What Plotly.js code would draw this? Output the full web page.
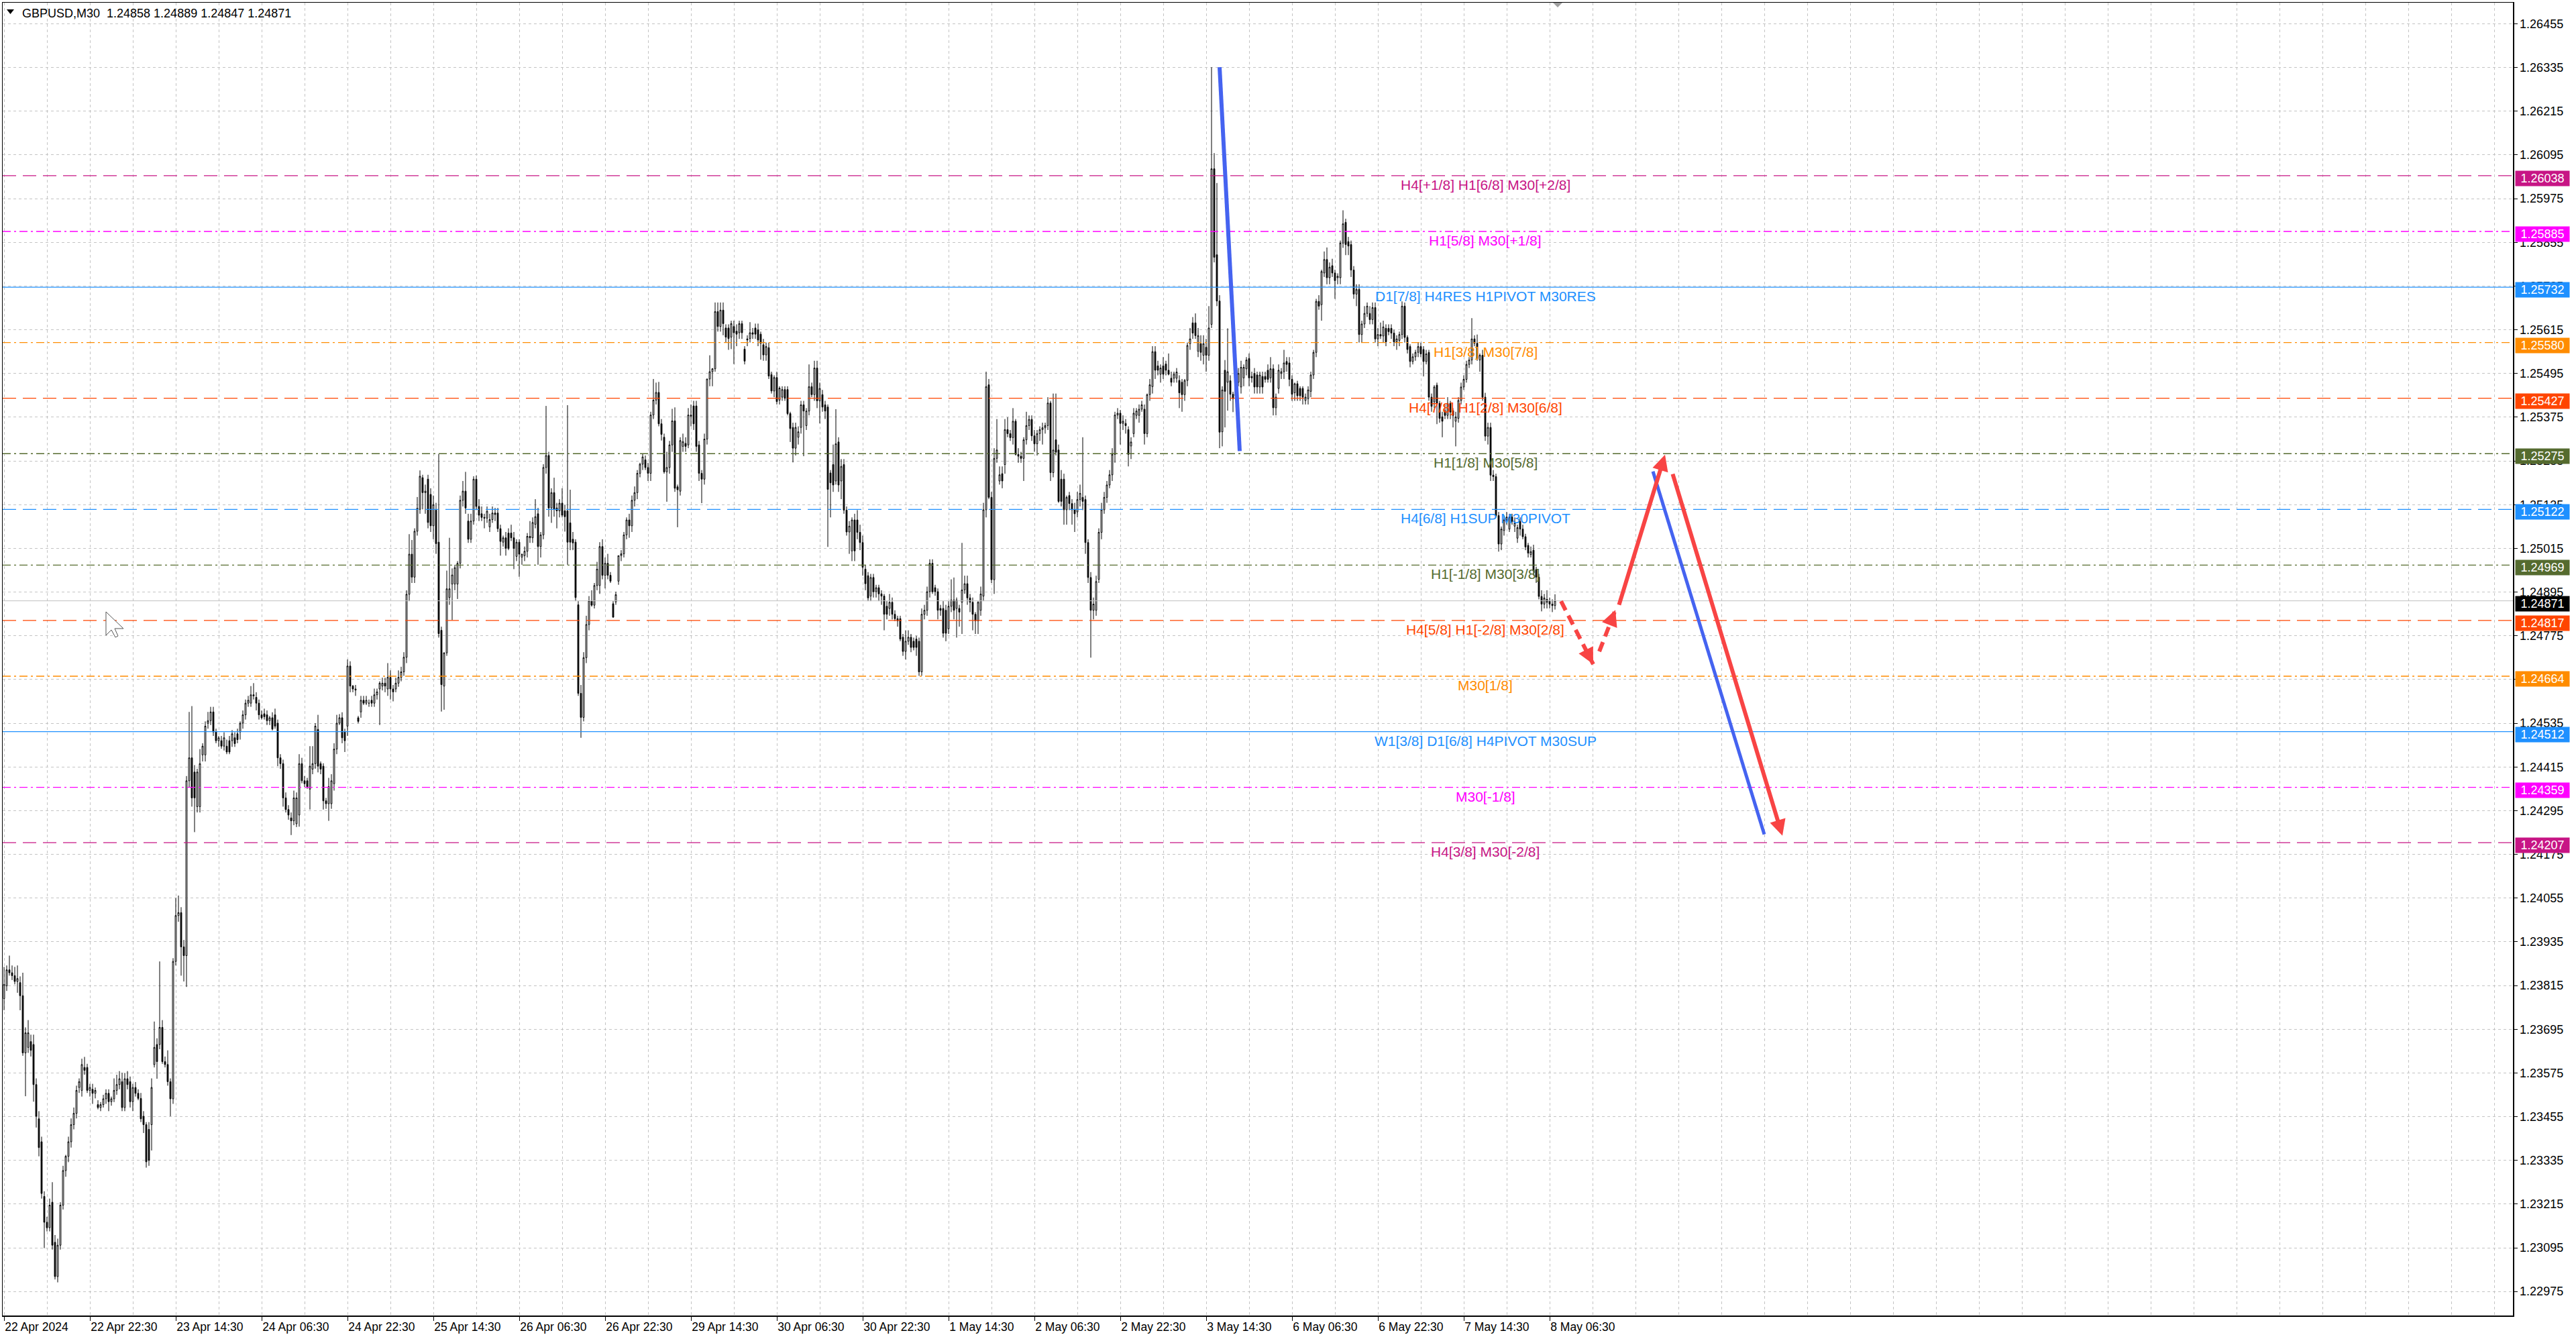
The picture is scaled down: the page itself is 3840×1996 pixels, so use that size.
<!DOCTYPE html>
<html>
<head>
<meta charset="utf-8">
<script src="https://cdn.plot.ly/plotly-3.0.1.min.js"></script>
<style>
  html, body { margin: 0; padding: 0; background: #fff; }
  #chart { width: 3840px; height: 1996px; }
</style>
</head>
<body>
<div id="chart"></div>
<script>
// GBPUSD M30 candles, bar 0 = first bar on the left
var opens = [
1.23779,1.23814,1.23858,1.23850,1.23842,1.23826,1.23823,1.23787,1.23630,1.23645,
1.23661,1.23653,1.23543,1.23449,1.23386,1.23236,1.23165,1.23150,1.23220,1.23110,
1.23016,1.23102,1.23212,1.23307,1.23346,1.23386,1.23433,1.23464,1.23535,1.23527,
1.23590,1.23590,1.23527,1.23530,1.23519,1.23488,1.23480,1.23488,1.23504,1.23519,
1.23496,1.23504,1.23527,1.23543,1.23551,1.23480,1.23559,1.23551,1.23496,1.23535,
1.23519,1.23505,1.23456,1.23433,1.23420,1.23433,1.23598,1.23653,1.23653,1.23700,
1.23606,1.23598,1.23551,1.23504,1.23881,1.24007,1.24015,1.23921,1.23897,1.24377,
1.24440,1.24401,1.24306,1.24306,1.24448,1.24448,1.24535,1.24542,1.24566,1.24511,
1.24487,1.24487,1.24472,1.24472,1.24487,1.24487,1.24495,1.24506,1.24511,1.24535,
1.24558,1.24590,1.24590,1.24613,1.24606,1.24590,1.24558,1.24561,1.24558,1.24542,
1.24550,1.24558,1.24535,1.24440,1.24424,1.24330,1.24298,1.24275,1.24267,1.24259,
1.24283,1.24424,1.24377,1.24377,1.24354,1.24409,1.24424,1.24518,1.24424,1.24417,
1.24322,1.24314,1.24314,1.24369,1.24464,1.24535,1.24550,1.24511,1.24527,1.24692,
1.24637,1.24629,1.24550,1.24566,1.24598,1.24590,1.24590,1.24598,1.24590,1.24613,
1.24629,1.24637,1.24645,1.24629,1.24661,1.24629,1.24629,1.24645,1.24661,1.24676,
1.24716,1.24889,1.24999,1.24936,1.25062,1.25122,1.25209,1.25168,1.25205,1.25163,
1.25077,1.25120,1.25032,1.24790,1.24637,1.24728,1.24880,1.24917,1.24917,1.24917,
1.24974,1.25147,1.25172,1.25090,1.25040,1.25090,1.25205,1.25130,1.25110,1.25100,
1.25098,1.25074,1.25094,1.25112,1.25112,1.25069,1.25032,1.25044,1.25057,1.25057,
1.25044,1.24993,1.25032,1.24991,1.24995,1.25007,1.25048,1.25044,1.25081,1.25110,
1.25020,1.25052,1.25237,1.25270,1.25126,1.25168,1.25126,1.25118,1.25139,1.25118,
1.25118,1.25085,1.25040,1.25032,1.24860,1.24617,1.24551,1.24715,1.24806,1.24871,
1.24859,1.24913,1.24913,1.25020,1.24941,1.24974,1.24941,1.24863,1.24868,1.24925,
1.24995,1.25000,1.25052,1.25093,1.25077,1.25147,1.25168,1.25221,1.25246,1.25258,
1.25237,1.25221,1.25381,1.25422,1.25443,1.25357,1.25320,1.25225,1.25237,1.25299,
1.25365,1.25184,1.25172,1.25295,1.25303,1.25299,1.25381,1.25406,1.25406,1.25299,
1.25221,1.25205,1.25315,1.25480,1.25500,1.25508,1.25665,1.25624,1.25669,1.25620,
1.25620,1.25595,1.25624,1.25611,1.25607,1.25632,1.25562,1.25590,1.25591,1.25607,
1.25620,1.25615,1.25603,1.25574,1.25546,1.25566,1.25492,1.25447,1.25484,1.25422,
1.25430,1.25451,1.25451,1.25385,1.25347,1.25290,1.25320,1.25347,1.25409,1.25352,
1.25392,1.25459,1.25437,1.25510,1.25420,1.25437,1.25409,1.25403,1.25222,1.25245,
1.25200,1.25307,1.25200,1.25245,1.25120,1.25060,1.25008,1.25093,1.25093,1.25059,
1.25031,1.24958,1.24940,1.24884,1.24935,1.24896,1.24907,1.24890,1.24884,1.24856,
1.24850,1.24867,1.24834,1.24822,1.24822,1.24771,1.24732,1.24760,1.24771,1.24760,
1.24766,1.24760,1.24676,1.24834,1.24845,1.24896,1.24974,1.24907,1.24896,1.24850,
1.24850,1.24845,1.24794,1.24856,1.24873,1.24850,1.24850,1.24867,1.24901,1.24918,
1.24879,1.24867,1.24834,1.24816,1.24845,1.24884,1.25121,1.25464,1.25155,1.24929,
1.25262,1.25200,1.25220,1.25245,1.25341,1.25330,1.25319,1.25364,1.25273,1.25268,
1.25262,1.25313,1.25352,1.25369,1.25324,1.25302,1.25330,1.25341,1.25346,1.25352,
1.25414,1.25223,1.25313,1.25285,1.25205,1.25205,1.25121,1.25160,1.25138,1.25121,
1.25115,1.25149,1.25155,1.25149,1.25031,1.24935,1.24845,1.24845,1.24930,1.25059,
1.25121,1.25155,1.25189,1.25217,1.25273,1.25381,1.25386,1.25358,1.25358,1.25341,
1.25296,1.25330,1.25380,1.25380,1.25397,1.25397,1.25330,1.25437,1.25459,1.25555,
1.25516,1.25493,1.25516,1.25521,1.25504,1.25482,1.25482,1.25482,1.25476,1.25471,
1.25437,1.25476,1.25577,1.25634,1.25634,1.25556,1.25577,1.25545,1.25567,1.25545,
1.25630,1.26057,1.25821,1.25694,1.25335,1.25504,1.25471,1.25475,1.25438,1.25434,
1.25471,1.25458,1.25483,1.25508,1.25536,1.25487,1.25495,1.25491,1.25458,1.25487,
1.25487,1.25504,1.25483,1.25508,1.25401,1.25454,1.25495,1.25500,1.25528,1.25524,
1.25479,1.25442,1.25467,1.25454,1.25454,1.25421,1.25426,1.25446,1.25491,1.25553,
1.25693,1.25684,1.25771,1.25808,1.25758,1.25791,1.25771,1.25758,1.25758,1.25853,
1.25910,1.25857,1.25849,1.25779,1.25713,1.25726,1.25602,1.25631,1.25660,1.25660,
1.25643,1.25676,1.25590,1.25602,1.25598,1.25619,1.25619,1.25619,1.25606,1.25582,
1.25586,1.25602,1.25680,1.25594,1.25569,1.25528,1.25541,1.25553,1.25569,1.25561,
1.25528,1.25553,1.25430,1.25417,1.25463,1.25413,1.25376,1.25393,1.25380,1.25413,
1.25393,1.25364,1.25372,1.25421,1.25458,1.25479,1.25520,1.25532,1.25590,1.25578,
1.25532,1.25545,1.25430,1.25323,1.25347,1.25216,1.25212,1.25105,1.25027,1.25064,
1.25093,1.25068,1.25101,1.25076,1.25043,1.25089,1.25068,1.25047,1.25023,1.24998,
1.25010,1.24957,1.24936,1.24883,1.24862,1.24875,1.24870,1.24862,1.24858
];
var highs = [
1.23866,1.23870,1.23897,1.23870,1.23866,1.23870,1.23840,1.23850,1.23700,1.23720,
1.23680,1.23680,1.23560,1.23470,1.23400,1.23250,1.23180,1.23230,1.23275,1.23130,
1.23120,1.23220,1.23320,1.23350,1.23400,1.23450,1.23480,1.23540,1.23560,1.23614,
1.23619,1.23600,1.23545,1.23545,1.23535,1.23500,1.23495,1.23515,1.23530,1.23530,
1.23510,1.23560,1.23570,1.23580,1.23575,1.23575,1.23580,1.23565,1.23545,1.23550,
1.23530,1.23520,1.23470,1.23440,1.23440,1.23560,1.23716,1.23670,1.23881,1.23720,
1.23620,1.23637,1.23560,1.23890,1.24055,1.24062,1.24030,1.23940,1.24390,1.24566,
1.24582,1.24420,1.24410,1.24464,1.24480,1.24540,1.24566,1.24580,1.24580,1.24520,
1.24500,1.24500,1.24510,1.24490,1.24500,1.24516,1.24510,1.24520,1.24540,1.24570,
1.24600,1.24610,1.24637,1.24645,1.24620,1.24600,1.24570,1.24575,1.24570,1.24555,
1.24565,1.24575,1.24545,1.24450,1.24435,1.24345,1.24310,1.24290,1.24350,1.24345,
1.24450,1.24440,1.24390,1.24385,1.24472,1.24472,1.24535,1.24558,1.24430,1.24425,
1.24330,1.24385,1.24395,1.24480,1.24558,1.24560,1.24565,1.24520,1.24710,1.24705,
1.24640,1.24640,1.24555,1.24610,1.24610,1.24610,1.24600,1.24610,1.24630,1.24630,
1.24650,1.24660,1.24660,1.24700,1.24680,1.24640,1.24660,1.24680,1.24690,1.24730,
1.24900,1.25054,1.25038,1.25070,1.25156,1.25229,1.25217,1.25190,1.25217,1.25180,
1.25160,1.25140,1.25274,1.24800,1.24730,1.24954,1.25044,1.24960,1.24970,1.24980,
1.25160,1.25200,1.25225,1.25110,1.25110,1.25213,1.25215,1.25150,1.25130,1.25110,
1.25130,1.25110,1.25130,1.25126,1.25126,1.25080,1.25050,1.25060,1.25070,1.25080,
1.25060,1.25040,1.25040,1.25000,1.25020,1.25057,1.25090,1.25100,1.25150,1.25126,
1.25060,1.25246,1.25406,1.25280,1.25180,1.25209,1.25140,1.25150,1.25180,1.25135,
1.25408,1.25176,1.25060,1.25040,1.24870,1.24640,1.24730,1.24830,1.24884,1.24900,
1.24920,1.24978,1.25032,1.25040,1.24990,1.25000,1.24950,1.24870,1.24896,1.24995,
1.25010,1.25060,1.25100,1.25110,1.25160,1.25185,1.25230,1.25250,1.25274,1.25270,
1.25250,1.25390,1.25480,1.25470,1.25472,1.25370,1.25330,1.25280,1.25310,1.25398,
1.25402,1.25190,1.25320,1.25330,1.25320,1.25400,1.25410,1.25420,1.25420,1.25310,
1.25230,1.25330,1.25480,1.25545,1.25510,1.25690,1.25690,1.25690,1.25690,1.25630,
1.25630,1.25640,1.25640,1.25630,1.25640,1.25640,1.25570,1.25600,1.25636,1.25620,
1.25632,1.25632,1.25610,1.25590,1.25580,1.25580,1.25500,1.25490,1.25500,1.25460,
1.25460,1.25460,1.25460,1.25390,1.25360,1.25360,1.25350,1.25420,1.25420,1.25400,
1.25520,1.25470,1.25530,1.25530,1.25470,1.25450,1.25420,1.25410,1.25230,1.25300,
1.25397,1.25320,1.25260,1.25260,1.25130,1.25090,1.25100,1.25110,1.25120,1.25080,
1.25050,1.24970,1.24950,1.24945,1.24945,1.24915,1.24915,1.24900,1.24890,1.24870,
1.24890,1.24880,1.24845,1.24830,1.24830,1.24780,1.24790,1.24790,1.24780,1.24770,
1.24775,1.24770,1.24850,1.24860,1.24910,1.24985,1.24985,1.24915,1.24905,1.24860,
1.24870,1.24860,1.24870,1.24930,1.24935,1.24880,1.24860,1.25030,1.24940,1.24940,
1.24890,1.24880,1.24840,1.24870,1.24910,1.25140,1.25500,1.25480,1.25170,1.25290,
1.25370,1.25240,1.25240,1.25370,1.25375,1.25340,1.25400,1.25370,1.25290,1.25280,
1.25320,1.25390,1.25380,1.25380,1.25340,1.25340,1.25350,1.25360,1.25360,1.25430,
1.25420,1.25440,1.25440,1.25300,1.25230,1.25220,1.25160,1.25170,1.25150,1.25140,
1.25170,1.25190,1.25320,1.25160,1.25040,1.24950,1.24880,1.24940,1.25070,1.25140,
1.25170,1.25200,1.25230,1.25290,1.25390,1.25400,1.25395,1.25380,1.25370,1.25350,
1.25320,1.25400,1.25400,1.25410,1.25420,1.25410,1.25440,1.25480,1.25570,1.25570,
1.25530,1.25520,1.25540,1.25530,1.25550,1.25500,1.25500,1.25510,1.25490,1.25480,
1.25480,1.25580,1.25620,1.25650,1.25660,1.25620,1.25600,1.25600,1.25590,1.25680,
1.26336,1.26100,1.26018,1.25710,1.25460,1.25532,1.25619,1.25490,1.25445,1.25480,
1.25510,1.25530,1.25520,1.25540,1.25550,1.25500,1.25510,1.25500,1.25500,1.25500,
1.25500,1.25520,1.25540,1.25520,1.25440,1.25520,1.25510,1.25560,1.25540,1.25540,
1.25490,1.25470,1.25475,1.25460,1.25460,1.25440,1.25460,1.25500,1.25560,1.25700,
1.25710,1.25780,1.25830,1.25841,1.25800,1.25810,1.25780,1.25770,1.25860,1.25943,
1.25920,1.25870,1.25860,1.25790,1.25740,1.25740,1.25640,1.25680,1.25690,1.25680,
1.25690,1.25690,1.25620,1.25635,1.25640,1.25630,1.25630,1.25630,1.25615,1.25600,
1.25610,1.25693,1.25690,1.25600,1.25575,1.25550,1.25560,1.25580,1.25580,1.25570,
1.25560,1.25560,1.25440,1.25463,1.25470,1.25420,1.25390,1.25410,1.25430,1.25420,
1.25400,1.25390,1.25430,1.25470,1.25490,1.25530,1.25540,1.25647,1.25600,1.25602,
1.25550,1.25560,1.25442,1.25360,1.25360,1.25230,1.25220,1.25115,1.25075,1.25105,
1.25115,1.25110,1.25110,1.25100,1.25080,1.25100,1.25080,1.25055,1.25030,1.25020,
1.25025,1.24965,1.24945,1.24900,1.24890,1.24900,1.24880,1.24875,1.24889
];
var lows = [
1.23747,1.23800,1.23842,1.23830,1.23818,1.23795,1.23747,1.23622,1.23511,1.23630,
1.23620,1.23496,1.23425,1.23346,1.23230,1.23094,1.23140,1.23140,1.23090,1.23008,
1.23000,1.23090,1.23200,1.23290,1.23330,1.23370,1.23420,1.23450,1.23520,1.23510,
1.23570,1.23520,1.23510,1.23490,1.23505,1.23475,1.23470,1.23480,1.23490,1.23470,
1.23485,1.23495,1.23515,1.23530,1.23470,1.23470,1.23530,1.23480,1.23470,1.23510,
1.23500,1.23440,1.23410,1.23315,1.23320,1.23362,1.23590,1.23559,1.23640,1.23600,
1.23590,1.23540,1.23456,1.23490,1.23870,1.23990,1.23842,1.23826,1.23811,1.24360,
1.24306,1.24236,1.24290,1.24290,1.24430,1.24430,1.24520,1.24530,1.24500,1.24480,
1.24470,1.24465,1.24460,1.24450,1.24450,1.24470,1.24470,1.24480,1.24490,1.24520,
1.24545,1.24580,1.24580,1.24600,1.24570,1.24545,1.24545,1.24545,1.24530,1.24530,
1.24515,1.24520,1.24417,1.24410,1.24306,1.24290,1.24270,1.24228,1.24255,1.24250,
1.24251,1.24370,1.24360,1.24355,1.24298,1.24395,1.24410,1.24400,1.24395,1.24298,
1.24300,1.24267,1.24300,1.24350,1.24450,1.24530,1.24480,1.24456,1.24500,1.24620,
1.24620,1.24610,1.24535,1.24550,1.24585,1.24585,1.24580,1.24580,1.24580,1.24600,
1.24530,1.24625,1.24620,1.24610,1.24600,1.24595,1.24620,1.24635,1.24650,1.24665,
1.24700,1.24870,1.24920,1.24920,1.25050,1.25110,1.25122,1.25110,1.25070,1.25060,
1.25040,1.25000,1.24770,1.24567,1.24572,1.24720,1.24860,1.24818,1.24900,1.24876,
1.24960,1.25130,1.25110,1.25030,1.25030,1.25080,1.25120,1.25090,1.25090,1.25070,
1.25085,1.25060,1.25085,1.25090,1.25060,1.24995,1.25020,1.24995,1.25010,1.25035,
1.24958,1.24980,1.24937,1.24970,1.24980,1.24990,1.25030,1.25030,1.25070,1.24970,
1.24990,1.25040,1.25220,1.25102,1.25085,1.25102,1.25070,1.25100,1.25100,1.25061,
1.24970,1.25010,1.25010,1.24870,1.24610,1.24495,1.24540,1.24700,1.24790,1.24855,
1.24850,1.24900,1.24890,1.24930,1.24905,1.24930,1.24920,1.24825,1.24860,1.24915,
1.24980,1.24990,1.25040,1.25044,1.25060,1.25130,1.25150,1.25210,1.25230,1.25230,
1.25200,1.25200,1.25370,1.25410,1.25350,1.25311,1.25220,1.25143,1.25220,1.25280,
1.25170,1.25073,1.25160,1.25280,1.25280,1.25290,1.25350,1.25340,1.25280,1.25200,
1.25139,1.25190,1.25300,1.25460,1.25460,1.25500,1.25610,1.25610,1.25600,1.25580,
1.25560,1.25562,1.25521,1.25570,1.25590,1.25590,1.25520,1.25570,1.25580,1.25590,
1.25590,1.25570,1.25533,1.25530,1.25530,1.25480,1.25440,1.25430,1.25410,1.25410,
1.25420,1.25420,1.25380,1.25307,1.25251,1.25270,1.25300,1.25330,1.25268,1.25340,
1.25380,1.25430,1.25420,1.25400,1.25358,1.25390,1.25370,1.25019,1.25100,1.25170,
1.25190,1.25170,1.25150,1.25110,1.25050,1.25000,1.24980,1.24980,1.25040,1.25010,
1.24940,1.24900,1.24870,1.24870,1.24880,1.24880,1.24870,1.24860,1.24790,1.24820,
1.24830,1.24820,1.24815,1.24800,1.24760,1.24720,1.24710,1.24750,1.24730,1.24735,
1.24720,1.24665,1.24665,1.24820,1.24830,1.24880,1.24890,1.24885,1.24820,1.24830,
1.24770,1.24760,1.24780,1.24840,1.24820,1.24770,1.24800,1.24780,1.24890,1.24860,
1.24840,1.24790,1.24780,1.24780,1.24830,1.24870,1.25100,1.25150,1.24920,1.24890,
1.25250,1.25190,1.25180,1.25220,1.25320,1.25310,1.25300,1.25270,1.25250,1.25250,
1.25200,1.25300,1.25340,1.25310,1.25280,1.25270,1.25310,1.25300,1.25330,1.25340,
1.25200,1.25210,1.25270,1.25140,1.25130,1.25080,1.25080,1.25120,1.25080,1.25060,
1.25100,1.25130,1.25120,1.25000,1.24920,1.24715,1.24820,1.24830,1.24920,1.25040,
1.25110,1.25140,1.25180,1.25200,1.25250,1.25370,1.25300,1.25340,1.25330,1.25240,
1.25260,1.25320,1.25370,1.25360,1.25390,1.25300,1.25320,1.25420,1.25440,1.25480,
1.25490,1.25470,1.25480,1.25490,1.25490,1.25460,1.25470,1.25470,1.25400,1.25390,
1.25420,1.25460,1.25560,1.25590,1.25590,1.25540,1.25530,1.25520,1.25500,1.25530,
1.25620,1.25800,1.25680,1.25290,1.25295,1.25347,1.25393,1.25420,1.25389,1.25420,
1.25460,1.25440,1.25460,1.25490,1.25460,1.25470,1.25440,1.25440,1.25440,1.25440,
1.25470,1.25470,1.25470,1.25380,1.25380,1.25440,1.25480,1.25480,1.25500,1.25460,
1.25420,1.25420,1.25420,1.25420,1.25410,1.25410,1.25410,1.25430,1.25480,1.25540,
1.25670,1.25640,1.25760,1.25740,1.25740,1.25760,1.25700,1.25740,1.25740,1.25840,
1.25820,1.25820,1.25760,1.25700,1.25680,1.25580,1.25580,1.25620,1.25650,1.25630,
1.25630,1.25580,1.25570,1.25590,1.25580,1.25570,1.25600,1.25590,1.25570,1.25560,
1.25570,1.25590,1.25580,1.25550,1.25512,1.25520,1.25530,1.25540,1.25540,1.25487,
1.25520,1.25420,1.25390,1.25400,1.25356,1.25360,1.25320,1.25370,1.25370,1.25370,
1.25347,1.25295,1.25360,1.25410,1.25450,1.25470,1.25510,1.25520,1.25570,1.25530,
1.25500,1.25420,1.25310,1.25300,1.25200,1.25200,1.25100,1.25006,1.25010,1.25050,
1.25080,1.25060,1.25080,1.25060,1.25030,1.25050,1.25040,1.25010,1.24990,1.24990,
1.24940,1.24920,1.24875,1.24842,1.24850,1.24850,1.24850,1.24840,1.24847
];
var closes = [
1.23818,1.23858,1.23850,1.23842,1.23826,1.23834,1.23787,1.23630,1.23685,1.23685,
1.23637,1.23543,1.23456,1.23370,1.23244,1.23165,1.23150,1.23212,1.23102,1.23016,
1.23102,1.23212,1.23307,1.23346,1.23386,1.23433,1.23464,1.23527,1.23551,1.23598,
1.23582,1.23527,1.23535,1.23519,1.23527,1.23480,1.23488,1.23504,1.23519,1.23496,
1.23504,1.23527,1.23543,1.23559,1.23480,1.23559,1.23543,1.23496,1.23535,1.23519,
1.23505,1.23449,1.23433,1.23331,1.23335,1.23535,1.23645,1.23606,1.23700,1.23606,
1.23598,1.23551,1.23504,1.23881,1.24007,1.24015,1.23921,1.23897,1.24377,1.24440,
1.24330,1.24330,1.24401,1.24424,1.24472,1.24527,1.24542,1.24566,1.24511,1.24487,
1.24495,1.24472,1.24495,1.24456,1.24456,1.24506,1.24479,1.24490,1.24535,1.24558,
1.24590,1.24598,1.24613,1.24610,1.24590,1.24558,1.24550,1.24553,1.24542,1.24550,
1.24519,1.24527,1.24440,1.24424,1.24330,1.24298,1.24283,1.24267,1.24330,1.24330,
1.24424,1.24377,1.24369,1.24361,1.24417,1.24424,1.24527,1.24417,1.24409,1.24322,
1.24314,1.24361,1.24377,1.24464,1.24535,1.24550,1.24495,1.24487,1.24692,1.24637,
1.24629,1.24626,1.24540,1.24598,1.24590,1.24598,1.24590,1.24590,1.24613,1.24621,
1.24645,1.24645,1.24637,1.24661,1.24629,1.24621,1.24645,1.24661,1.24676,1.24716,
1.24889,1.24999,1.24936,1.25062,1.25125,1.25213,1.25168,1.25172,1.25086,1.25077,
1.25135,1.25028,1.24781,1.24641,1.24728,1.24904,1.24904,1.24942,1.24962,1.24974,
1.25147,1.25172,1.25126,1.25040,1.25090,1.25205,1.25130,1.25106,1.25100,1.25098,
1.25117,1.25094,1.25112,1.25108,1.25069,1.25034,1.25044,1.25015,1.25015,1.25044,
1.25015,1.25032,1.24999,1.24999,1.25007,1.25048,1.25044,1.25086,1.25102,1.25020,
1.25052,1.25237,1.25270,1.25126,1.25168,1.25122,1.25118,1.25139,1.25106,1.25102,
1.25032,1.25032,1.25030,1.24880,1.24617,1.24551,1.24715,1.24806,1.24871,1.24859,
1.24913,1.24958,1.25020,1.24941,1.24974,1.24941,1.24925,1.24826,1.24888,1.24995,
1.25000,1.25052,1.25093,1.25077,1.25147,1.25168,1.25221,1.25246,1.25266,1.25237,
1.25221,1.25381,1.25422,1.25443,1.25357,1.25328,1.25225,1.25237,1.25299,1.25365,
1.25180,1.25176,1.25311,1.25308,1.25295,1.25381,1.25378,1.25357,1.25295,1.25221,
1.25205,1.25315,1.25480,1.25500,1.25508,1.25665,1.25624,1.25669,1.25632,1.25595,
1.25591,1.25632,1.25607,1.25603,1.25632,1.25607,1.25529,1.25587,1.25607,1.25603,
1.25603,1.25587,1.25578,1.25546,1.25569,1.25488,1.25447,1.25484,1.25418,1.25455,
1.25451,1.25427,1.25385,1.25344,1.25290,1.25347,1.25335,1.25409,1.25392,1.25392,
1.25459,1.25437,1.25510,1.25420,1.25454,1.25403,1.25392,1.25177,1.25195,1.25189,
1.25302,1.25189,1.25240,1.25120,1.25060,1.25076,1.25093,1.25008,1.25059,1.25031,
1.24963,1.24918,1.24879,1.24935,1.24896,1.24907,1.24890,1.24884,1.24834,1.24834,
1.24867,1.24834,1.24822,1.24816,1.24766,1.24732,1.24760,1.24771,1.24743,1.24743,
1.24743,1.24676,1.24834,1.24845,1.24896,1.24974,1.24896,1.24896,1.24845,1.24845,
1.24782,1.24782,1.24856,1.24873,1.24845,1.24873,1.24840,1.24901,1.24918,1.24879,
1.24867,1.24834,1.24816,1.24867,1.24890,1.25121,1.25459,1.25155,1.24929,1.25262,
1.25285,1.25217,1.25200,1.25341,1.25330,1.25319,1.25364,1.25273,1.25268,1.25262,
1.25313,1.25352,1.25369,1.25324,1.25302,1.25330,1.25341,1.25346,1.25352,1.25414,
1.25223,1.25285,1.25279,1.25144,1.25144,1.25121,1.25155,1.25138,1.25121,1.25110,
1.25149,1.25166,1.25144,1.25031,1.24935,1.24845,1.24862,1.24924,1.25059,1.25121,
1.25155,1.25189,1.25217,1.25273,1.25381,1.25386,1.25358,1.25364,1.25352,1.25273,
1.25307,1.25386,1.25392,1.25397,1.25409,1.25330,1.25437,1.25464,1.25555,1.25504,
1.25504,1.25510,1.25493,1.25504,1.25493,1.25471,1.25493,1.25499,1.25442,1.25437,
1.25476,1.25572,1.25590,1.25606,1.25599,1.25599,1.25553,1.25577,1.25545,1.25620,
1.26057,1.25814,1.25694,1.25334,1.25450,1.25446,1.25500,1.25438,1.25426,1.25471,
1.25495,1.25512,1.25512,1.25532,1.25483,1.25483,1.25458,1.25458,1.25491,1.25458,
1.25479,1.25479,1.25508,1.25401,1.25430,1.25504,1.25500,1.25524,1.25520,1.25479,
1.25438,1.25467,1.25434,1.25434,1.25430,1.25430,1.25450,1.25491,1.25553,1.25693,
1.25680,1.25775,1.25808,1.25758,1.25787,1.25771,1.25750,1.25762,1.25853,1.25906,
1.25849,1.25845,1.25779,1.25713,1.25726,1.25602,1.25631,1.25660,1.25680,1.25643,
1.25676,1.25590,1.25602,1.25598,1.25623,1.25582,1.25610,1.25606,1.25582,1.25590,
1.25602,1.25680,1.25594,1.25561,1.25528,1.25541,1.25553,1.25569,1.25549,1.25528,
1.25549,1.25430,1.25405,1.25458,1.25413,1.25372,1.25364,1.25380,1.25413,1.25389,
1.25380,1.25376,1.25421,1.25458,1.25479,1.25520,1.25532,1.25590,1.25578,1.25536,
1.25545,1.25430,1.25323,1.25347,1.25216,1.25212,1.25105,1.25027,1.25068,1.25093,
1.25101,1.25101,1.25089,1.25085,1.25072,1.25068,1.25047,1.25019,1.25002,1.25006,
1.24953,1.24936,1.24883,1.24862,1.24879,1.24867,1.24862,1.24858,1.24871
];

// time axis labels, one every 32 bars
var timeLabels = ['22 Apr 2024', '22 Apr 22:30', '23 Apr 14:30', '24 Apr 06:30', '24 Apr 22:30',
  '25 Apr 14:30', '26 Apr 06:30', '26 Apr 22:30', '29 Apr 14:30', '30 Apr 06:30', '30 Apr 22:30',
  '1 May 14:30', '2 May 06:30', '2 May 22:30', '3 May 14:30', '6 May 06:30', '6 May 22:30',
  '7 May 14:30', '8 May 06:30'];
var priceTicks = [1.22975, 1.23095, 1.23215, 1.23335, 1.23455, 1.23575, 1.23695, 1.23815, 1.23935,
  1.24055, 1.24175, 1.24295, 1.24415, 1.24535, 1.24655, 1.24775, 1.24895, 1.25015, 1.25135,
  1.25255, 1.25375, 1.25495, 1.25615, 1.25735, 1.25855, 1.25975, 1.26095, 1.26215, 1.26335, 1.26455];

// level lines and their captions
var levelPrices = [1.26038, 1.25885, 1.25732, 1.25580, 1.25427, 1.25275, 1.25122,
  1.24969, 1.24817, 1.24664, 1.24512, 1.24359, 1.24207];
var levelNames = ['H4[+1/8] H1[6/8] M30[+2/8]', 'H1[5/8] M30[+1/8]', 'D1[7/8] H4RES H1PIVOT M30RES',
  'H1[3/8] M30[7/8]', 'H4[7/8] H1[2/8] M30[6/8]', 'H1[1/8] M30[5/8]', 'H4[6/8] H1SUP M30PIVOT',
  'H1[-1/8] M30[3/8]', 'H4[5/8] H1[-2/8] M30[2/8]', 'M30[1/8]', 'W1[3/8] D1[6/8] H4PIVOT M30SUP',
  'M30[-1/8]', 'H4[3/8] M30[-2/8]'];
var lastPrice = closes[closes.length - 1];

// hand drawn lines: [start, end] as bar index / price
var spikeLineX = [453, 460.5], spikeLineY = [1.26336, 1.25282];
var dashDownX = [580.25, 592.25], dashDownY = [1.24870, 1.24697];
var dashUpX = [594.5, 600.5], dashUpY = [1.24732, 1.24846];
var redUpX = [601.75, 619], redUpY = [1.24857, 1.25272];
var blueDownX = [614.5, 656], blueDownY = [1.25226, 1.24230];
var redDownX = [621.75, 662.75], redDownY = [1.25222, 1.24226];

// ---- styles ----
var W = 3840, H = 1996;
var M = {l: 4, r: 94, t: 4, b: 35};
var xRange = [-0.5, 935];
var yRange = [1.22909, 1.26513];
var FONT = 'Liberation Sans, Arial, sans-serif';
var RED = '#f84444', BLUE = '#4563f0';
var DASH = '20px,10px', DASHDOT = '12px,5px,3px,5px';
var levelColors = ['#c71585', '#ff00ff', '#1e90ff', '#ff8c00', '#ff4500', '#556b2f', '#1e90ff',
  '#556b2f', '#ff4500', '#ff8c00', '#1e90ff', '#ff00ff', '#c71585'];
var levelDash = [DASH, DASHDOT, 'solid', DASHDOT, DASH, DASHDOT, DASH,
  DASHDOT, DASH, DASHDOT, 'solid', DASHDOT, DASH];
var captionBar = 552;

var plotW = W - M.l - M.r, plotH = H - M.t - M.b;
var pxPerBar = plotW / (xRange[1] - xRange[0]);
var pxPerPrice = plotH / (yRange[1] - yRange[0]);
function paperX(px) { return (px - M.l) / plotW; }
function paperY(py) { return 1 - (py - M.t) / plotH; }
function pathPx(pts) {
  return pts.map(function (p, i) {
    return (i ? 'L' : 'M') + paperX(p[0]).toFixed(5) + ',' + paperY(p[1]).toFixed(5);
  }).join(' ') + ' Z';
}

var bars = opens.map(function (_, i) { return i; });
var labelBars = timeLabels.map(function (_, k) { return k * 32; });

var shapes = [];
var annotations = [];

function priceBox(p, color) {
  return {xref: 'paper', x: 1, xshift: 3, xanchor: 'left', yref: 'y', y: p, yshift: -4, yanchor: 'middle',
    text: p.toFixed(5), showarrow: false, bgcolor: color, width: 78, height: 20, borderpad: 1,
    font: {family: FONT, size: 18, color: '#fff'}};
}

levelPrices.forEach(function (p, i) {
  shapes.push({type: 'line', xref: 'paper', x0: 0, x1: 1, yref: 'y', y0: p, y1: p,
    line: {color: levelColors[i], width: 1.3, dash: levelDash[i]}});
  annotations.push({xref: 'x', x: captionBar, yref: 'y', y: p, xanchor: 'center', yanchor: 'top',
    text: levelNames[i], showarrow: false, font: {family: FONT, size: 21, color: levelColors[i]}});
  annotations.push(priceBox(p, levelColors[i]));
});

// last price
shapes.push({type: 'line', xref: 'paper', x0: 0, x1: 1, yref: 'y', y0: lastPrice, y1: lastPrice,
  line: {color: '#c0c0c0', width: 1}});
annotations.push(priceBox(lastPrice, '#000'));

// drawn lines
function seg(xs, ys, color, width, dash) {
  return {type: 'line', xref: 'x', yref: 'y', x0: xs[0], y0: ys[0], x1: xs[1], y1: ys[1],
    line: {color: color, width: width, dash: dash || 'solid'}};
}
shapes.push(seg(spikeLineX, spikeLineY, BLUE, 6));
shapes.push(seg(blueDownX, blueDownY, BLUE, 5));
shapes.push(seg(dashDownX, dashDownY, RED, 6, '15px,9px'));
shapes.push(seg(dashUpX, dashUpY, RED, 6, '15px,9px'));

function arrow(xs, ys) {
  return {xref: 'x', yref: 'y', axref: 'x', ayref: 'y', x: xs[1], y: ys[1], ax: xs[0], ay: ys[0],
    text: '', showarrow: true, arrowhead: 2, arrowsize: 0.8, arrowwidth: 6, arrowcolor: RED,
    standoff: 0, startstandoff: 0};
}
function arrowHead(xs, ys) {
  var dx = (xs[1] - xs[0]) * pxPerBar, dy = -(ys[1] - ys[0]) * pxPerPrice;
  var len = Math.sqrt(dx * dx + dy * dy);
  return {xref: 'x', yref: 'y', x: xs[1], y: ys[1], ax: -dx / len * 22, ay: -dy / len * 22,
    text: '', showarrow: true, arrowhead: 2, arrowsize: 0.8, arrowwidth: 6, arrowcolor: RED,
    standoff: 0, startstandoff: 0};
}
annotations.push(arrow(redUpX, redUpY));
annotations.push(arrow(redDownX, redDownY));
annotations.push(arrowHead(dashDownX, dashDownY));
annotations.push(arrowHead(dashUpX, dashUpY));

// symbol header
var last = opens.length - 1;
annotations.push({xref: 'paper', yref: 'paper', x: paperX(31), y: paperY(20), xanchor: 'left', yanchor: 'middle',
  showarrow: false, font: {family: FONT, size: 18, color: '#000'},
  text: 'GBPUSD,M30\u00a0\u00a0' + [opens[last], highs[last], lows[last], closes[last]]
    .map(function (v) { return v.toFixed(5); }).join(' ')});
shapes.push({type: 'path', xref: 'paper', yref: 'paper', path: pathPx([[10, 14], [21, 14], [15.5, 21]]),
  fillcolor: '#000', line: {width: 0}});
// chart shift marker
shapes.push({type: 'path', xref: 'paper', yref: 'paper', path: pathPx([[2315, 4], [2329, 4], [2322, 11]]),
  fillcolor: '#a0a0a0', line: {width: 0}});
// mouse pointer
shapes.push({type: 'path', xref: 'paper', yref: 'paper',
  path: pathPx([[158, 912], [158, 947], [166, 939], [172, 950], [176, 948], [171, 937], [184, 937]]),
  fillcolor: '#fff', line: {color: '#555', width: 1}});

var trace = {
  type: 'candlestick',
  x: bars, open: opens, high: highs, low: lows, close: closes,
  increasing: {line: {color: '#000', width: 1}, fillcolor: '#fff'},
  decreasing: {line: {color: '#000', width: 1}, fillcolor: '#000'},
  whiskerwidth: 0,
  hoverinfo: 'skip',
  showlegend: false
};

var grid = {gridcolor: '#c4c4c4', griddash: '4px,4px', gridwidth: 1};

var layout = {
  width: W, height: H,
  margin: M,
  paper_bgcolor: '#fff', plot_bgcolor: '#fff',
  showlegend: false,
  boxgap: 0.35,
  xaxis: {
    range: xRange, type: 'linear',
    tickmode: 'array', tickvals: labelBars, ticktext: timeLabels,
    ticks: 'outside', ticklen: 6, tickcolor: '#000', tickwidth: 1,
    ticklabelposition: 'outside right',
    tickfont: {family: FONT, size: 17.5, color: '#000'},
    showgrid: false,
    minor: Object.assign({tickmode: 'linear', tick0: 0, dtick: 16, showgrid: true, ticks: ''}, grid),
    showline: true, linecolor: '#000', linewidth: 1.5, mirror: true,
    zeroline: false, rangeslider: {visible: false}, fixedrange: true
  },
  yaxis: Object.assign({
    side: 'right', range: yRange,
    tickmode: 'array', tickvals: priceTicks,
    ticktext: priceTicks.map(function (v) { return v.toFixed(5); }),
    ticks: 'outside', ticklen: 5, tickcolor: '#000',
    tickfont: {family: FONT, size: 18, color: '#000'},
    showgrid: true,
    showline: true, linecolor: '#000', linewidth: 1.5, mirror: true,
    zeroline: false, fixedrange: true
  }, grid),
  shapes: shapes,
  annotations: annotations
};

Plotly.newPlot('chart', [trace], layout, {displayModeBar: false, staticPlot: true});
</script>
</body>
</html>
